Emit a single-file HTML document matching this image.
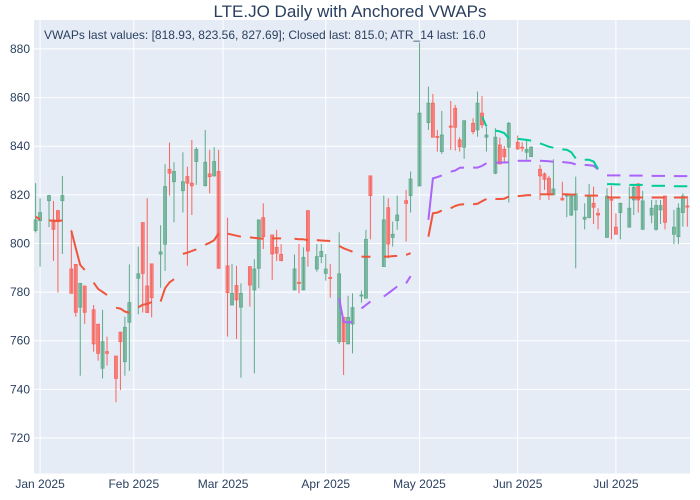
<!DOCTYPE html>
<html>
<head>
<meta charset="utf-8">
<style>
  html,body{margin:0;padding:0;background:#fff;}
  svg{display:block;font-family:"Liberation Sans",Arial,sans-serif;}
</style>
</head>
<body>
<svg id="chart" width="700" height="500" viewBox="0 0 700 500" xmlns="http://www.w3.org/2000/svg">
  <rect x="0" y="0" width="700" height="500" fill="#ffffff"/>
  <rect x="34" y="20" width="656" height="453.5" fill="#E5ECF6"/>
  <g id="grid"></g>
  <g id="candles"></g>
  <g id="lines"></g>
  <g id="axes"></g>
  <text x="350" y="17" text-anchor="middle" font-size="17" fill="#2a3f5f">LTE.JO Daily with Anchored VWAPs</text>
  <text x="44" y="39" font-size="12" fill="#2a3f5f">VWAPs last values: [818.93, 823.56, 827.69]; Closed last: 815.0; ATR_14 last: 16.0</text>
</svg>
<script>
const dates = [
'2025-01-01','2025-01-02',
'2025-01-06','2025-01-07','2025-01-08','2025-01-09',
'2025-01-13','2025-01-14','2025-01-15','2025-01-16',
'2025-01-20','2025-01-21','2025-01-22','2025-01-23',
'2025-01-27','2025-01-28','2025-01-29','2025-01-30',
'2025-02-03','2025-02-04','2025-02-05','2025-02-06',
'2025-02-10','2025-02-11','2025-02-12','2025-02-13',
'2025-02-17','2025-02-18','2025-02-19','2025-02-20',
'2025-02-24','2025-02-25','2025-02-26','2025-02-27',
'2025-03-03','2025-03-04','2025-03-05','2025-03-06',
'2025-03-10','2025-03-11','2025-03-12','2025-03-13',
'2025-03-17','2025-03-18','2025-03-19',
'2025-03-24','2025-03-25','2025-03-26','2025-03-27',
'2025-03-31','2025-04-01','2025-04-02','2025-04-03',
'2025-04-07','2025-04-08','2025-04-09','2025-04-10',
'2025-04-14','2025-04-15','2025-04-16',
'2025-04-21','2025-04-22','2025-04-23','2025-04-24',
'2025-04-28','2025-04-29','2025-05-01',
'2025-05-05','2025-05-06','2025-05-07','2025-05-08',
'2025-05-12','2025-05-13','2025-05-14','2025-05-15',
'2025-05-19','2025-05-20','2025-05-21','2025-05-22',
'2025-05-26','2025-05-27','2025-05-28','2025-05-29',
'2025-06-02','2025-06-03','2025-06-04','2025-06-05',
'2025-06-09','2025-06-10','2025-06-11','2025-06-12',
'2025-06-16','2025-06-17','2025-06-18','2025-06-19',
'2025-06-23','2025-06-24','2025-06-25','2025-06-26',
'2025-06-30','2025-07-01','2025-07-02','2025-07-03',
'2025-07-07','2025-07-08','2025-07-09','2025-07-10',
'2025-07-14','2025-07-15','2025-07-16','2025-07-17',
'2025-07-21','2025-07-22','2025-07-23','2025-07-24'];
const openV = [805.3,809.4,817.6,809.7,813.5,817.6,789.5,791.4,773.8,782.5,772.7,766.8,748.7,755.5,753.7,763.5,751.4,767.6,
785.7,808.6,782.5,791.6,795.6,799.7,830.5,825.4,821.7,827.5,824.8,833.7,823.8,828.6,827.8,829.6,
790.8,774.7,782.7,773.8,790.5,780.9,789.8,810.6,803.5,798.4,795.5,780.9,784,780.9,813.5,789.5,794.6,787.7,786,
759.6,769.6,758.7,766.9,778.4,777.5,827.8,790.5,814.7,802.5,809.4,817.6,819.7,823.7,849.7,857.7,844,837.8,
848.3,855.6,842.6,839.6,849.4,846.7,853.6,843.7,828.9,840.5,838.7,839.6,841.6,839.6,837.5,835.7,
830.5,828.6,826.8,820,818.6,819.5,811.7,813.8,810,810.6,816.5,812.4,802.5,818.2,806.7,812.7,
806.7,817.9,824.5,805.8,811.7,805.8,813.8,819.5,803.8,802.8,812.7,815.4];
const highV = [824.8,818.6,820,817.5,813.8,827.8,805.6,791.4,783.6,782.5,774.7,766.8,772.7,761.7,753.7,763.7,769.9,791.4,
798.7,808.6,818.6,791.6,807.5,832.6,841.5,833.4,837.5,831.6,842.6,839.6,846.7,838.5,839.6,838.5,
810.6,791.6,790.8,783.6,790.5,793.5,809.7,816.5,803.5,805.6,799.7,795.5,799.8,798.4,813.5,799.8,799.8,795.7,791.6,
804.6,769.6,778.5,779.5,780.6,805.6,827.8,819.7,818.6,809,819.7,822,829.6,882.6,864.5,861.5,846.7,854.5,
858.6,857,843.7,850.5,851.5,862.5,860.7,847.8,847.4,843.5,840.1,850,844.4,841.6,842.6,840,
832.3,829.2,827.8,834.6,825.4,820,819.5,827.5,816.5,824.5,823.4,814.5,822.7,823.7,812.4,816.8,
823.4,824.5,824.8,821.6,817.9,817.9,817.9,819.5,813.8,816.5,820.6,819.5];
const lowV = [804.5,790.5,806.7,792.8,779.8,795.7,779.5,769.9,745.6,766.9,755.5,751.8,744.5,749.8,734.7,739.7,745.6,747.6,
770.9,771.6,771.6,769.6,781.8,788.7,819.7,808.7,812.7,790.8,811.7,824.1,823.4,820.6,827.5,789.8,
761.7,774.7,760.7,744.8,774,746.6,781.6,797.7,785,792.8,792.9,780.9,779.5,780.9,790.5,788.4,791.9,784.7,777.7,
758.7,745.9,758.7,754.8,775.7,777.5,801.7,790.5,793.9,798.7,805.6,800.8,812.7,823.4,846.7,843.7,837.8,836.8,
838.5,838.2,837.8,834.8,844.9,843.9,847.4,837.8,828.5,832.7,833.7,816.8,838.5,837.8,834.4,835.7,
817.9,822,817.9,820,817.6,810.8,811.3,789.8,805.8,810.6,808,805.8,802.5,801.7,803.8,801.7,
806.7,811.7,812.7,805.8,808.3,805.3,808,805.8,799.7,799.7,806.9,806.9];
const closeV = [809.7,812.7,819.7,805.8,809.7,819.7,779.5,771.7,783.6,771.7,758.7,754.8,759.6,754.8,744.5,759.6,765.5,775.7,
787.5,787.7,771.6,777.7,796.5,823.4,828.9,829.6,825.4,824.8,823.7,838.7,833.4,827.5,833.7,789.8,
779.8,779.5,776.8,779.5,782.9,789.5,809.7,802.8,795.7,796,792.9,789.5,783.6,794.3,796.9,794.6,796.7,789.5,785.7,
787.5,759.6,769.6,773.6,778.8,801.7,819.7,809.7,799.8,803.8,811.7,816.5,826.5,853.6,857.7,843.7,843.7,844.6,
847.8,847.8,839.8,850.5,846,857.7,848.8,844.6,843.7,832.7,835.7,849.4,838.9,839.2,838.7,839.6,
827.8,826.4,820,822.4,817.9,820,819.5,820.4,810.8,819.5,814.9,811.7,819.5,817.9,803.8,816.5,
814.5,823.1,817.9,817.5,814.5,815.6,815.6,808.7,806.7,814.5,819.5,815.0];

// Anchored VWAP 1 (from first date)
const vwap1Start = '2025-01-01';
const vwap1 = [811,810, 809.5,809.3,809.2,809.5, 805.3,798,791.2,789.1, 783.9,781.3,780.1,778.8, 773.6,773.2,772,771.5,
773.8,774.8,775.1,775.9, 776.1,781.6,784,785.3, 795.7,796.2,796.9,797.6, 799.4,800.3,801.4,804.2,
804,803.6,803.2,802.8, 802.5,802.3,802.1,801.9, 802.1,802.1,802.1, 801.9,801.7,801.7,801.4, 801.4,801.2,801.1,801.0,
799,798,797.3,796.6, 794.6,794.5,794.5, 794.6,794.6,794.8,794.9, 795.3,796,797.1, 802.8,812.4,812.7,813.5,
814.5,815.4,816,816.1, 816.1,816.3,817.4,818.3, 818.3,818.3,818.4,819.3, 819.5,819.6,819.8,819.9,
820.2,820.2,820.2,820.2, 820.2,820.2,820.1,820.1, 819.7,819.7,819.7,819.7, 818.9,818.9,818.9,818.9,
818.9,818.9,818.9,818.9, 818.9,818.9,818.9,818.9, 818.9,818.9,818.9,818.93];
// Anchored VWAP 2
const vwap2Start = '2025-04-07';
const vwap2 = [777.5,767.8,767.5,767.8, 773.3,774.7,776.1, 778.2,779.5,780.9,782.3, 783.6,786.6,790.8,
809.7,826.8,827.3,828, 829.5,830,831.1,831.2, 831.2,831.2,831.9,833, 833.2,833.3,833.3,833.4,
834,834,834,834, 834,833.9,833.8,833.6, 833.5,833.3,833.1,832.5, 832.3,832.2,832,830.5,
828,828,828,828, 827.9,827.9,827.9,827.9, 827.8,827.8,827.8,827.8, 827.7,827.7,827.7,827.69];
// Anchored VWAP 3
const vwap3Start = '2025-05-21';
const vwap3 = [852.2,848.1, 846.4,846.1,845.4,843.2, 843,842.8,842.6,842.3, 841.2,840.5,839.8,839.4,
838.7,838.5,837.5,835, 834.4,834.4,833.7,830.7, 824.4,824.4,824.3,824.3, 824.1,824.1,824.1,824.1,
823.7,823.7,823.7,823.7, 823.5,823.5,823.5,823.56];

const yTicks = [720,740,760,780,800,820,840,860,880];
const xTickDates = ['2025-01-02','2025-01-31','2025-02-28','2025-04-02','2025-05-01','2025-06-02','2025-07-02'];
const xTickLabels = ['Jan 2025','Feb 2025','Mar 2025','Apr 2025','May 2025','Jun 2025','Jul 2025'];

const NS = 'http://www.w3.org/2000/svg';
const PL = 34, PR = 690, PT = 20, PB = 473.5;
// weekday index (weekend rangebreaks) relative to Mon 2025-01-06
function wdIndex(d){
  const t = Date.UTC(+d.slice(0,4), +d.slice(5,7)-1, +d.slice(8,10));
  const days = Math.round((t - Date.UTC(2025,0,6)) / 86400000);
  const wk = Math.floor(days/7), rem = days - wk*7;
  return wk*5 + Math.min(rem,5);
}
const X0 = -3.36, X1 = 143.6;
function xScale(d){ return PL + (wdIndex(d) - X0) / (X1 - X0) * (PR - PL); }
const Y0 = 705.4, Y1 = 891.9;
function yScale(v){ return PB - (v - Y0) / (Y1 - Y0) * (PB - PT); }
function mk(tag, attrs, parent){
  const e = document.createElementNS(NS, tag);
  for (const k in attrs) e.setAttribute(k, attrs[k]);
  parent.appendChild(e); return e;
}
const grid = document.getElementById('grid');
const axes = document.getElementById('axes');
yTicks.forEach(v=>{
  const y = yScale(v);
  const l = mk('line',{x1:PL,x2:PR,y1:y,y2:y,stroke:'#ffffff','stroke-width':1},grid);
  
  
  const t = mk('text',{x:PL-4,y:y+4,'text-anchor':'end','font-size':12,fill:'#2a3f5f'},axes);
  
  
  t.textContent = v;
});
xTickDates.forEach((d,i)=>{
  const x = xScale(d);
  const l = mk('line',{x1:x,x2:x,y1:PT,y2:PB,stroke:'#ffffff','stroke-width':1},grid);
  
  
  const t = mk('text',{x:x,y:488,'text-anchor':'middle','font-size':12,fill:'#2a3f5f'},axes);
  
  
  t.textContent = xTickLabels[i];
});
const cg = document.getElementById('candles');
dates.forEach((d,i)=>{
  const x = xScale(d);
  const up = closeV[i] >= openV[i];
  const col = up ? '#3D9970' : '#FF4136';
  const g = mk('g',{opacity:0.8},cg);
  
  
  mk('line',{x1:x,x2:x,y1:yScale(highV[i]),y2:yScale(lowV[i]),stroke:col,'stroke-width':1},g);
  const top = yScale(Math.max(openV[i],closeV[i])), bot = yScale(Math.min(openV[i],closeV[i]));
  mk('rect',{x:x-1.5,y:top,width:3,height:Math.max(bot-top,1),fill:col,'fill-opacity':0.6,stroke:col,'stroke-width':0.8},g);
});
const lg = document.getElementById('lines');
function drawVwap(start, vals, color, name){
  const s = dates.indexOf(start);
  let seg = [];
  const segs = [];
  vals.forEach((v,k)=>{
    const d = dates[s+k];
    if (seg.length && wdIndex(d) - wdIndex(dates[s+k-1]) > 1){ segs.push(seg); seg = []; }
    seg.push([xScale(d), yScale(v)]);
  });
  if (seg.length) segs.push(seg);
  segs.forEach(sg=>{
    const p = mk('polyline',{points:sg.map(q=>q[0].toFixed(1)+','+q[1].toFixed(1)).join(' '),fill:'none',stroke:color,'stroke-width':2,'stroke-linejoin':'round'},lg);
    
    
  });
}
drawVwap(vwap1Start, vwap1, '#EF553B', 'vwap-anchor-1-line');
drawVwap(vwap2Start, vwap2, '#AB63FA', 'vwap-anchor-2-line');
drawVwap(vwap3Start, vwap3, '#00CC96', 'vwap-anchor-3-line');
</script>
</body>
</html>
